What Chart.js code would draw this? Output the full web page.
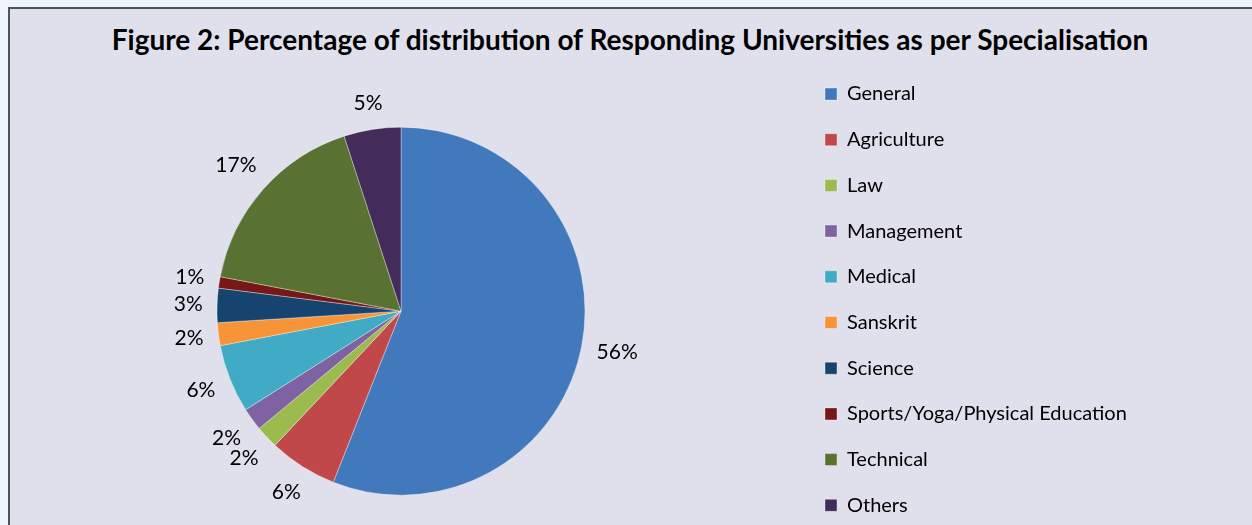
<!DOCTYPE html>
<html>
<head>
<meta charset="utf-8">
<script src="https://cdn.jsdelivr.net/npm/chart.js@4"></script>
<style>
  html, body { margin: 0; padding: 0; width: 1252px; height: 525px; overflow: hidden; background: #eef4fb; }
  .frame {
    position: absolute; left: 8px; top: 7px; width: 1300px; height: 600px;
    border: 2px solid #4d5257; background: #e0e0ec;
  }
  .title {
    position: absolute; left: 0; width: 1260px; top: 22px; text-align: center;
    font: bold 28px Lato, sans-serif; color: #000; line-height: 34px; white-space: nowrap;
  }
  .container { position: absolute; left: 0; top: 0; width: 1252px; height: 564px; }
</style>
</head>
<body>
<div class="frame"></div>
<div class="title">Figure 2: Percentage of distribution of Responding Universities as per Specialisation</div>
<div class="container"><canvas id="pie"></canvas></div>
<script>
  // categories and their share (%)
  const categories = ["General", "Agriculture", "Law", "Management", "Medical", "Sanskrit",
    "Science", "Sports/Yoga/Physical Education", "Technical", "Others"];
  const shares = [56, 6, 2, 2, 6, 2, 3, 1, 17, 5];
  const colours = ["#4279BD", "#C0484A", "#9BBB4F", "#7F62A1", "#41ABC6", "#F79437",
    "#17446F", "#771717", "#5A7231", "#432C59"];

  const FONT = { family: "Lato, sans-serif", size: 20 };
  const LEG_PAD = 25.7;
  const BOX = 12;

  // work out how wide the legend gets so it lands at the right spot
  const probe = document.createElement("canvas").getContext("2d");
  probe.font = FONT.size + "px " + FONT.family;
  const widest = Math.max(...categories.map((c) => probe.measureText(c).width));
  const legendLeft = 825 - LEG_PAD;
  const legendWidth = LEG_PAD + BOX + FONT.size / 2 + widest + 10;
  const padRight = 1252 - legendLeft - legendWidth;

  // percent labels just outside each slice
  const outsideLabels = {
    id: "outsideLabels",
    afterDatasetsDraw(chart) {
      const ctx = chart.ctx;
      const meta = chart.getDatasetMeta(0);
      ctx.save();
      ctx.font = "21px " + FONT.family;
      ctx.fillStyle = "#000";
      ctx.textAlign = "center";
      ctx.textBaseline = "middle";
      meta.data.forEach((arc, i) => {
        const { x, y, startAngle, endAngle, outerRadius } = arc.getProps(
          ["x", "y", "startAngle", "endAngle", "outerRadius"], true);
        const mid = (startAngle + endAngle) / 2;
        const dx = Math.cos(mid), dy = Math.sin(mid);
        const text = shares[i] + "%";
        const w = ctx.measureText(text).width;
        const d = outerRadius + 14 + Math.abs(dx) * w / 2 + Math.abs(dy) * 10;
        ctx.fillText(text, x + dx * d, y + dy * d);
      });
      ctx.restore();
    },
  };

  new Chart(document.getElementById("pie"), {
    type: "pie",
    data: {
      labels: categories,
      datasets: [
        {
          data: shares,
          backgroundColor: colours,
          borderColor: "rgba(255,255,255,0.35)",
          borderWidth: 1,
          radius: 184,
        },
      ],
    },
    options: {
      responsive: true,
      maintainAspectRatio: false,
      animation: false,
      layout: {
        padding: { left: 2.7, top: 58.3, right: padRight, bottom: 0 },
      },
      plugins: {
        tooltip: { enabled: false },
        legend: {
          position: "right",
          align: "start",
          labels: {
            boxWidth: BOX,
            boxHeight: BOX,
            padding: LEG_PAD,
            color: "#000",
            font: FONT,
          },
        },
      },
    },
    plugins: [outsideLabels],
  });
</script>
</body>
</html>
